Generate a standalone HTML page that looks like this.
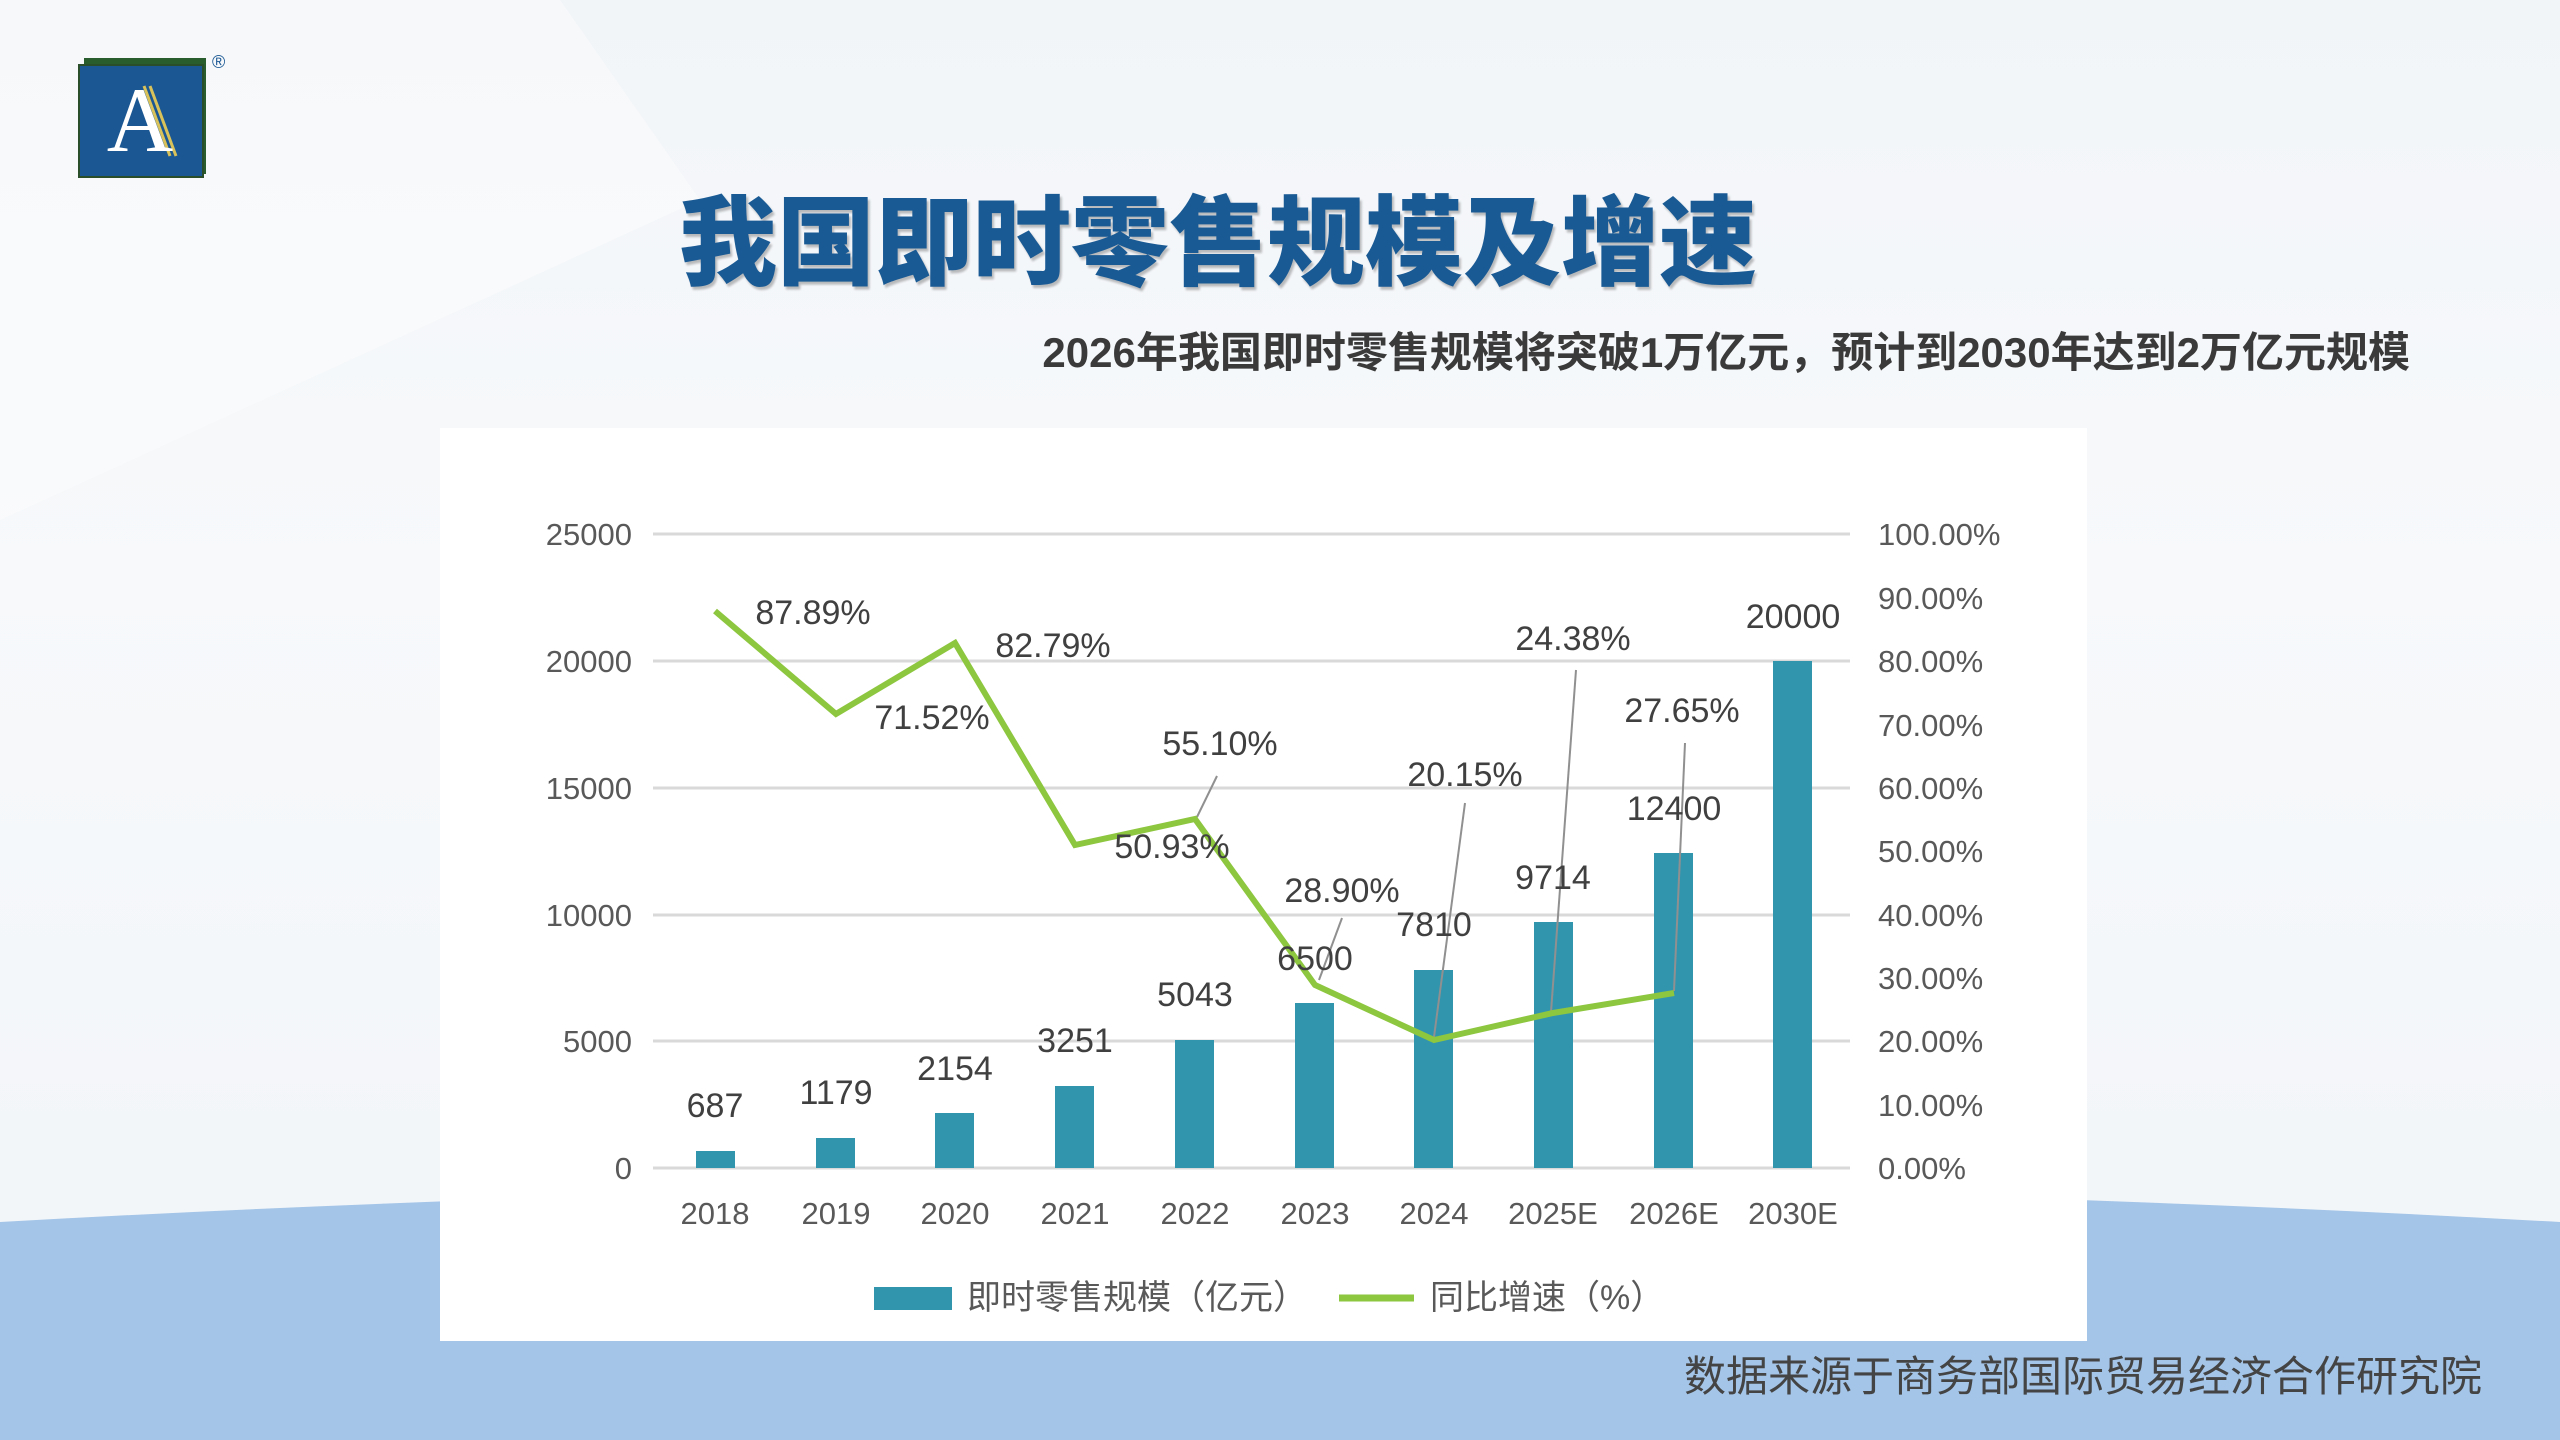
<!DOCTYPE html>
<html><head><meta charset="utf-8">
<style>
html,body{margin:0;padding:0;}
body{width:2560px;height:1440px;position:relative;overflow:hidden;background:linear-gradient(180deg,#f2f5f8 0%,#f7f9fb 40%,#f3f6f9 80%);font-family:"Liberation Sans","Noto Sans CJK SC",sans-serif;}
.abs{position:absolute;}
</style></head>
<body>
<svg class="abs" style="left:0;top:0" width="2560" height="1440">
  <path d="M0,1222 Q1280,1150 2560,1222 L2560,1440 L0,1440 Z" fill="#a4c5e8"/>
  <path d="M0,0 L560,0 L700,200 L0,520 Z" fill="#ffffff" opacity="0.35"/>
</svg>
<!-- logo -->
<div class="abs" style="left:84px;top:58px;width:122px;height:116px;background:#2a5d2e;"></div>
<div class="abs" style="left:78px;top:64px;width:122px;height:110px;background:#1b5893;border:2px solid #2a4d2a;"></div>
<svg class="abs" style="left:78px;top:64px" width="124" height="112">
  <line x1="66" y1="22" x2="92" y2="92" stroke="#d9c25a" stroke-width="3"/>
  <line x1="72" y1="22" x2="98" y2="92" stroke="#d9c25a" stroke-width="3"/>
</svg>
<div class="abs" style="left:95px;top:70px;width:90px;height:100px;color:#fff;font-family:'Liberation Serif',serif;font-size:92px;line-height:100px;text-align:center;">A</div>
<div class="abs" style="left:212px;top:52px;font-size:18px;color:#1b5893;">®</div>
<!-- title -->
<div class="abs" style="left:679px;top:170px;white-space:nowrap;font-family:'Noto Sans CJK SC',sans-serif;font-weight:900;font-size:98px;line-height:130px;color:#1a5a94;letter-spacing:0px;text-shadow:2px 3px 2px rgba(0,0,0,0.25);">我国即时零售规模及增速</div>
<div class="abs" style="left:1000px;top:325px;width:1410px;text-align:right;font-family:'Liberation Sans','Noto Sans CJK SC',sans-serif;font-weight:bold;font-size:42px;line-height:56px;color:#3a3a3a;white-space:nowrap;">2026年我国即时零售规模将突破1万亿元，预计到2030年达到2万亿元规模</div>
<!-- panel -->
<div class="abs" style="left:440px;top:428px;width:1647px;height:913px;background:#fff;"></div>
<svg class="abs" style="left:0;top:0" width="2560" height="1440" font-family="Liberation Sans, Noto Sans CJK SC, sans-serif">
  <g stroke="#d9d9d9" stroke-width="3">
    <line x1="653" y1="534" x2="1850" y2="534"/>
    <line x1="653" y1="661" x2="1850" y2="661"/>
    <line x1="653" y1="788" x2="1850" y2="788"/>
    <line x1="653" y1="915" x2="1850" y2="915"/>
    <line x1="653" y1="1041" x2="1850" y2="1041"/>
    <line x1="653" y1="1168" x2="1850" y2="1168"/>
  </g>
  <g fill="#595959" font-size="31" text-anchor="end">
    <text x="632" y="545">25000</text><text x="632" y="672">20000</text><text x="632" y="799">15000</text>
    <text x="632" y="926">10000</text><text x="632" y="1052">5000</text><text x="632" y="1179">0</text>
  </g>
  <g fill="#595959" font-size="31">
    <text x="1878" y="545">100.00%</text><text x="1878" y="609">90.00%</text><text x="1878" y="672">80.00%</text>
    <text x="1878" y="736">70.00%</text><text x="1878" y="799">60.00%</text><text x="1878" y="862">50.00%</text>
    <text x="1878" y="926">40.00%</text><text x="1878" y="989">30.00%</text><text x="1878" y="1052">20.00%</text>
    <text x="1878" y="1116">10.00%</text><text x="1878" y="1179">0.00%</text>
  </g>
  <g fill="#3195ae">
    <rect x="696" y="1151" width="39" height="17"/>
    <rect x="816" y="1138" width="39" height="30"/>
    <rect x="935" y="1113" width="39" height="55"/>
    <rect x="1055" y="1086" width="39" height="82"/>
    <rect x="1175" y="1040" width="39" height="128"/>
    <rect x="1295" y="1003" width="39" height="165"/>
    <rect x="1414" y="970" width="39" height="198"/>
    <rect x="1534" y="922" width="39" height="246"/>
    <rect x="1654" y="853" width="39" height="315"/>
    <rect x="1773" y="661" width="39" height="507"/>
  </g>
  <g fill="#595959" font-size="31" text-anchor="middle">
    <text x="715" y="1224">2018</text><text x="836" y="1224">2019</text><text x="955" y="1224">2020</text>
    <text x="1075" y="1224">2021</text><text x="1195" y="1224">2022</text><text x="1315" y="1224">2023</text>
    <text x="1434" y="1224">2024</text><text x="1553" y="1224">2025E</text><text x="1674" y="1224">2026E</text>
    <text x="1793" y="1224">2030E</text>
  </g>
  <g stroke="#909090" stroke-width="2">
    <line x1="1217" y1="776" x2="1197" y2="817"/>
    <line x1="1342" y1="918" x2="1319" y2="980"/>
    <line x1="1465" y1="803" x2="1434" y2="1037"/>
    <line x1="1576" y1="670" x2="1551" y2="1012"/>
    <line x1="1685" y1="743" x2="1674" y2="991"/>
  </g>
  <polyline fill="none" stroke="#8dc63f" stroke-width="6" stroke-linejoin="miter" points="715,611 836,714 955,643 1075,845 1195,819 1315,985 1434,1040 1553,1013 1674,993"/>
  <g fill="#404040" font-size="34" text-anchor="middle">
    <text x="715" y="1117">687</text><text x="836" y="1104">1179</text><text x="955" y="1080">2154</text>
    <text x="1075" y="1052">3251</text><text x="1195" y="1006">5043</text><text x="1315" y="970">6500</text>
    <text x="1434" y="936">7810</text><text x="1553" y="889">9714</text><text x="1674" y="820">12400</text>
    <text x="1793" y="628">20000</text>
    <text x="813" y="624">87.89%</text><text x="932" y="729">71.52%</text><text x="1053" y="657">82.79%</text>
    <text x="1172" y="858">50.93%</text><text x="1220" y="755">55.10%</text><text x="1342" y="902">28.90%</text>
    <text x="1465" y="786">20.15%</text><text x="1573" y="650">24.38%</text><text x="1682" y="722">27.65%</text>
  </g>
  <rect x="874" y="1287" width="78" height="23" fill="#3195ae"/>
  <text x="967" y="1309" fill="#595959" font-size="34">即时零售规模（亿元）</text>
  <line x1="1339" y1="1298" x2="1414" y2="1298" stroke="#8dc63f" stroke-width="7"/>
  <text x="1430" y="1309" fill="#595959" font-size="34">同比增速（%）</text>
</svg>
<div class="abs" style="left:1640px;top:1350px;width:842px;text-align:right;font-size:42px;line-height:54px;color:#444;white-space:nowrap;font-family:'Liberation Sans','Noto Sans CJK SC',sans-serif;">数据来源于商务部国际贸易经济合作研究院</div>
</body></html>
